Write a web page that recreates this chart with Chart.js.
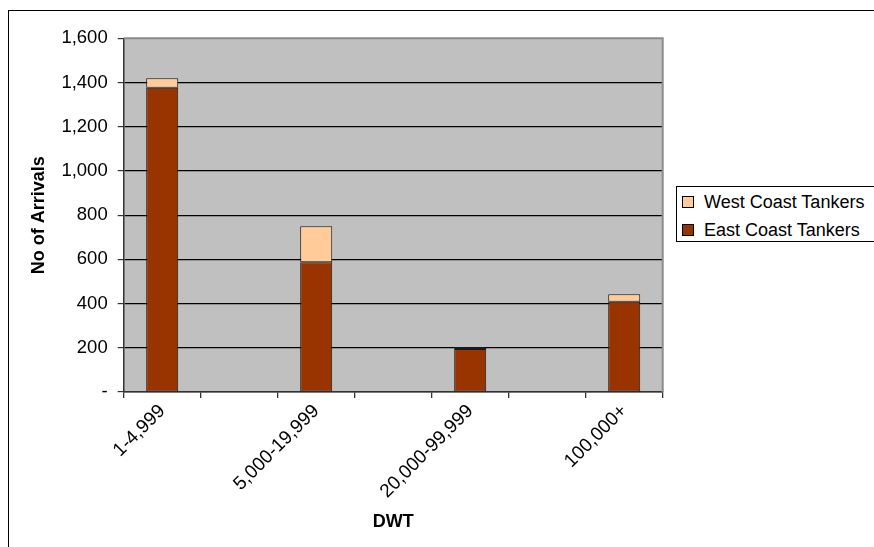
<!DOCTYPE html>
<html><head><meta charset="utf-8">
<script src="https://cdn.jsdelivr.net/npm/chart.js@4.4.1/dist/chart.umd.min.js"></script>
<style>
html,body{margin:0;padding:0;width:874px;height:547px;overflow:hidden;background:#fff;}
#wrap{position:relative;width:874px;height:547px;overflow:hidden;}
#frame{position:absolute;left:8px;top:10px;width:900px;height:600px;border:1px solid #000;box-sizing:border-box;}
canvas{position:absolute;left:0;top:0;}
#legend{position:absolute;left:676px;top:186px;width:220px;height:56px;border:1px solid #000;box-sizing:border-box;background:#fff;font-family:"Liberation Sans",Arial,sans-serif;font-size:18px;color:#000;}
.item{position:absolute;left:5px;height:20px;line-height:20px;white-space:nowrap;}
.sw{display:inline-block;width:10px;height:10px;border:1px solid #000;vertical-align:middle;margin-right:10px;position:relative;top:-1px;}
</style>
</head><body>
<div id="wrap">
<div id="frame"></div>
<canvas id="c" width="874" height="547"></canvas>
<div id="legend">
  <div class="item" style="top:4.5px"><span class="sw" id="swW"></span><span id="lgW"></span></div>
  <div class="item" style="top:32.5px"><span class="sw" id="swE"></span><span id="lgE"></span></div>
</div>
</div>
<script>
const categories = ['1-4,999', '', '5,000-19,999', '', '20,000-99,999', '', '100,000+'];
const eastCoastTankers = [1376, null, 587, null, 194, null, 408];
const westCoastTankers = [43, null, 163, null, 9, null, 34];
const seriesNames = ['East Coast Tankers', 'West Coast Tankers'];
const seriesColors = ['#993300', '#FFCC99'];
const yTickValues = [0, 200, 400, 600, 800, 1000, 1200, 1400, 1600];
const xTitle = 'DWT';
const yTitle = 'No of Arrivals';

const FONT = '"Liberation Sans", Arial, sans-serif';

document.getElementById('lgW').textContent = seriesNames[1];
document.getElementById('lgE').textContent = seriesNames[0];
document.getElementById('swW').style.background = seriesColors[1];
document.getElementById('swE').style.background = seriesColors[0];

const plotBg = {
  id: 'plotBg',
  beforeDraw(chart) {
    const {ctx, chartArea: a} = chart;
    ctx.save();
    ctx.fillStyle = '#C0C0C0';
    ctx.fillRect(a.left, a.top, a.right - a.left, a.bottom - a.top);
    ctx.restore();
  },
  beforeDatasetsDraw(chart) {
    const {ctx, chartArea: a} = chart;
    ctx.save();
    ctx.strokeStyle = '#8c8c8c';
    ctx.lineWidth = 2;
    ctx.beginPath();
    ctx.moveTo(a.left, a.top);
    ctx.lineTo(a.right, a.top);
    ctx.lineTo(a.right, a.bottom);
    ctx.stroke();
    ctx.restore();
  }
};

new Chart(document.getElementById('c'), {
  type: 'bar',
  data: {
    labels: categories,
    datasets: [
      {label: seriesNames[0], data: eastCoastTankers, backgroundColor: seriesColors[0], borderColor: '#1a1a1a', borderWidth: 1, borderSkipped: false, categoryPercentage: 1, barPercentage: 0.416},
      {label: seriesNames[1], data: westCoastTankers, backgroundColor: seriesColors[1], borderColor: '#1a1a1a', borderWidth: 1, borderSkipped: false, categoryPercentage: 1, barPercentage: 0.416}
    ]
  },
  options: {
    responsive: false,
    animation: false,
    devicePixelRatio: 1,
    layout: {padding: {left: 24.5, top: 38.3, right: 211.3, bottom: 10.5}},
    plugins: {legend: {display: false}, tooltip: {enabled: false}},
    scales: {
      x: {
        stacked: true,
        offset: true,
        grid: {offset: true, drawOnChartArea: false, drawTicks: true, tickLength: 6, color: '#333', lineWidth: 1.3},
        border: {color: '#333', width: 1.5},
        ticks: {autoSkip: false, maxRotation: 45, minRotation: 45, color: '#000', font: {family: FONT, size: 19}, padding: 2},
        title: {display: true, text: xTitle, color: '#000', font: {family: FONT, size: 18, weight: 'bold'}, padding: {top: 4, bottom: 4}},
        afterFit(s) { s.height = 144.5; }
      },
      y: {
        stacked: true,
        min: 0,
        max: 1600,
        afterBuildTicks(s) { s.ticks = yTickValues.map(v => ({value: v})); },
        ticks: {
          color: '#000',
          font: {family: FONT, size: 18.5},
          padding: 10,
          callback: v => v === 0 ? '-' : Number(v).toLocaleString('en-US')
        },
        grid: {
          color: c => (c.tick && c.tick.value === 1600) ? 'rgba(0,0,0,0)' : '#000',
          tickColor: '#333',
          tickLength: 6,
          lineWidth: 1.2
        },
        border: {color: '#333', width: 1.5},
        title: {display: true, text: yTitle, color: '#000', font: {family: FONT, size: 18, weight: 'bold'}, padding: {top: 4, bottom: 4}},
        afterFit(s) { s.width = 99.2; }
      }
    }
  },
  plugins: [plotBg]
});
</script>
</body></html>
